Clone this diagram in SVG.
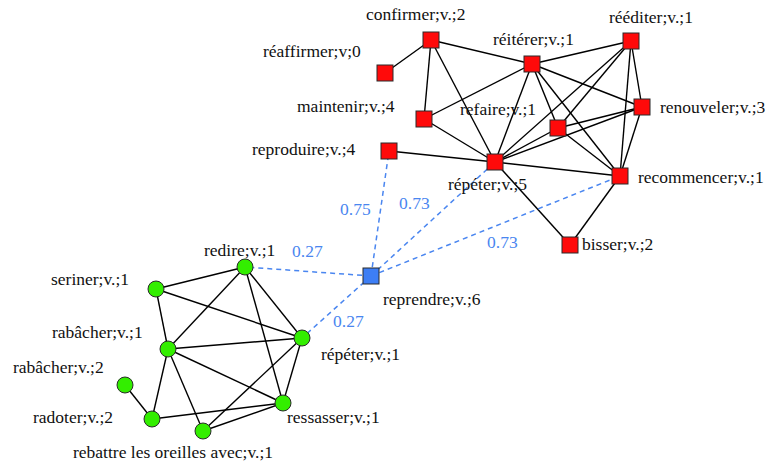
<svg xmlns="http://www.w3.org/2000/svg" width="780" height="466" viewBox="0 0 780 466" font-family="Liberation Serif, Noto Serif, DejaVu Serif, serif">
  <style>
    .bg { fill: #ffffff; }
    .edge { stroke: #000000; stroke-width: 1.4; fill: none; }
    .link { stroke: #4a86f0; stroke-width: 1.5; stroke-dasharray: 5 4; fill: none; }
    .sq { fill: #ff0a0a; stroke: #2a2a2a; stroke-width: 1; }
    .hub { fill: #3d7ef5; stroke: #2a2a2a; stroke-width: 1; }
    .dot { fill: #33ee00; stroke: #2a2a2a; stroke-width: 1; }
    .lbl { font-size: 17.5px; fill: #111111; }
    .wt { font-size: 17.5px; fill: #4a86f0; }
  </style>
  <rect class="bg" x="0" y="0" width="780" height="466"/>

  <g id="connectors">
    <!-- red cluster -->
    <line class="edge" x1="431" y1="40" x2="385" y2="73"/>
    <line class="edge" x1="431" y1="40" x2="424" y2="119"/>
    <line class="edge" x1="431" y1="40" x2="532" y2="64"/>
    <line class="edge" x1="431" y1="40" x2="495" y2="162"/>
    <line class="edge" x1="424" y1="119" x2="532" y2="64"/>
    <line class="edge" x1="424" y1="119" x2="495" y2="162"/>
    <line class="edge" x1="389" y1="151" x2="495" y2="162"/>
    <line class="edge" x1="532" y1="64" x2="631" y2="41"/>
    <line class="edge" x1="532" y1="64" x2="642" y2="107"/>
    <line class="edge" x1="532" y1="64" x2="495" y2="162"/>
    <line class="edge" x1="532" y1="64" x2="558" y2="128"/>
    <line class="edge" x1="532" y1="64" x2="620" y2="176"/>
    <line class="edge" x1="631" y1="41" x2="495" y2="162"/>
    <line class="edge" x1="631" y1="41" x2="558" y2="128"/>
    <line class="edge" x1="631" y1="41" x2="642" y2="107"/>
    <line class="edge" x1="631" y1="41" x2="620" y2="176"/>
    <line class="edge" x1="642" y1="107" x2="558" y2="128"/>
    <line class="edge" x1="642" y1="107" x2="495" y2="162"/>
    <line class="edge" x1="642" y1="107" x2="620" y2="176"/>
    <line class="edge" x1="558" y1="128" x2="495" y2="162"/>
    <line class="edge" x1="558" y1="128" x2="620" y2="176"/>
    <line class="edge" x1="495" y1="162" x2="620" y2="176"/>
    <line class="edge" x1="495" y1="162" x2="570" y2="245"/>
    <line class="edge" x1="620" y1="176" x2="570" y2="245"/>
    <!-- green cluster -->
    <line class="edge" x1="156" y1="289" x2="245" y2="267"/>
    <line class="edge" x1="156" y1="289" x2="168" y2="349"/>
    <line class="edge" x1="156" y1="289" x2="302" y2="338"/>
    <line class="edge" x1="245" y1="267" x2="168" y2="349"/>
    <line class="edge" x1="245" y1="267" x2="302" y2="338"/>
    <line class="edge" x1="245" y1="267" x2="283" y2="403"/>
    <line class="edge" x1="168" y1="349" x2="302" y2="338"/>
    <line class="edge" x1="168" y1="349" x2="283" y2="403"/>
    <line class="edge" x1="168" y1="349" x2="152" y2="419"/>
    <line class="edge" x1="168" y1="349" x2="203" y2="431"/>
    <line class="edge" x1="302" y1="338" x2="203" y2="431"/>
    <line class="edge" x1="302" y1="338" x2="283" y2="403"/>
    <line class="edge" x1="152" y1="419" x2="283" y2="403"/>
    <line class="edge" x1="203" y1="431" x2="283" y2="403"/>
    <line class="edge" x1="125" y1="385" x2="152" y2="419"/>
    <!-- weighted links from reprendre -->
    <line class="link" x1="371" y1="276" x2="245" y2="267"/>
    <line class="link" x1="371" y1="276" x2="302" y2="338"/>
    <line class="link" x1="371" y1="276" x2="389" y2="151"/>
    <line class="link" x1="371" y1="276" x2="495" y2="162"/>
    <line class="link" x1="371" y1="276" x2="620" y2="176"/>
    <text class="wt" x="340" y="215">0.75</text>
    <text class="wt" x="399" y="209">0.73</text>
    <text class="wt" x="487" y="248">0.73</text>
    <text class="wt" x="292" y="257">0.27</text>
    <text class="wt" x="333" y="327">0.27</text>
  </g>

  <g id="confirmer"><rect class="sq" x="423" y="32" width="16" height="16"/><text class="lbl" x="366" y="20">confirmer;v.;2</text></g>
  <g id="reaffirmer"><rect class="sq" x="377" y="65" width="16" height="16"/><text class="lbl" x="263" y="57">réaffirmer;v;0</text></g>
  <g id="maintenir"><rect class="sq" x="416" y="111" width="16" height="16"/><text class="lbl" x="297" y="112">maintenir;v.;4</text></g>
  <g id="reiterer"><rect class="sq" x="524" y="56" width="16" height="16"/><text class="lbl" x="493" y="45">réitérer;v.;1</text></g>
  <g id="reediter"><rect class="sq" x="623" y="33" width="16" height="16"/><text class="lbl" x="609" y="23">rééditer;v.;1</text></g>
  <g id="renouveler"><rect class="sq" x="634" y="99" width="16" height="16"/><text class="lbl" x="660" y="113">renouveler;v.;3</text></g>
  <g id="refaire"><text class="lbl" x="460" y="115">refaire;v.;1</text><rect class="sq" x="550" y="120" width="16" height="16"/></g>
  <g id="reproduire"><rect class="sq" x="381" y="143" width="16" height="16"/><text class="lbl" x="252" y="155">reproduire;v.;4</text></g>
  <g id="repeter5"><rect class="sq" x="487" y="154" width="16" height="16"/><text class="lbl" x="448" y="190">répéter;v.;5</text></g>
  <g id="recommencer"><rect class="sq" x="612" y="168" width="16" height="16"/><text class="lbl" x="638" y="183">recommencer;v.;1</text></g>
  <g id="bisser"><rect class="sq" x="562" y="237" width="16" height="16"/><text class="lbl" x="582" y="250">bisser;v.;2</text></g>
  <g id="reprendre"><rect class="hub" x="363" y="268" width="16" height="16"/><text class="lbl" x="383" y="305">reprendre;v.;6</text></g>

  <g id="redire"><circle class="dot" cx="245" cy="267" r="8"/><text class="lbl" x="204" y="256">redire;v.;1</text></g>
  <g id="seriner"><circle class="dot" cx="156" cy="289" r="8"/><text class="lbl" x="51" y="285">seriner;v.;1</text></g>
  <g id="rabacher1"><circle class="dot" cx="168" cy="349" r="8"/><text class="lbl" x="52" y="338">rabâcher;v.;1</text></g>
  <g id="rabacher2"><circle class="dot" cx="125" cy="385" r="8"/><text class="lbl" x="13" y="373">rabâcher;v.;2</text></g>
  <g id="radoter"><circle class="dot" cx="152" cy="419" r="8"/><text class="lbl" x="33" y="423">radoter;v.;2</text></g>
  <g id="rebattre"><circle class="dot" cx="203" cy="431" r="8"/><text class="lbl" x="73" y="458">rebattre les oreilles avec;v.;1</text></g>
  <g id="repeter1"><circle class="dot" cx="302" cy="338" r="8"/><text class="lbl" x="321" y="360">répéter;v.;1</text></g>
  <g id="ressasser"><circle class="dot" cx="283" cy="403" r="8"/><text class="lbl" x="287" y="423">ressasser;v.;1</text></g>
</svg>
